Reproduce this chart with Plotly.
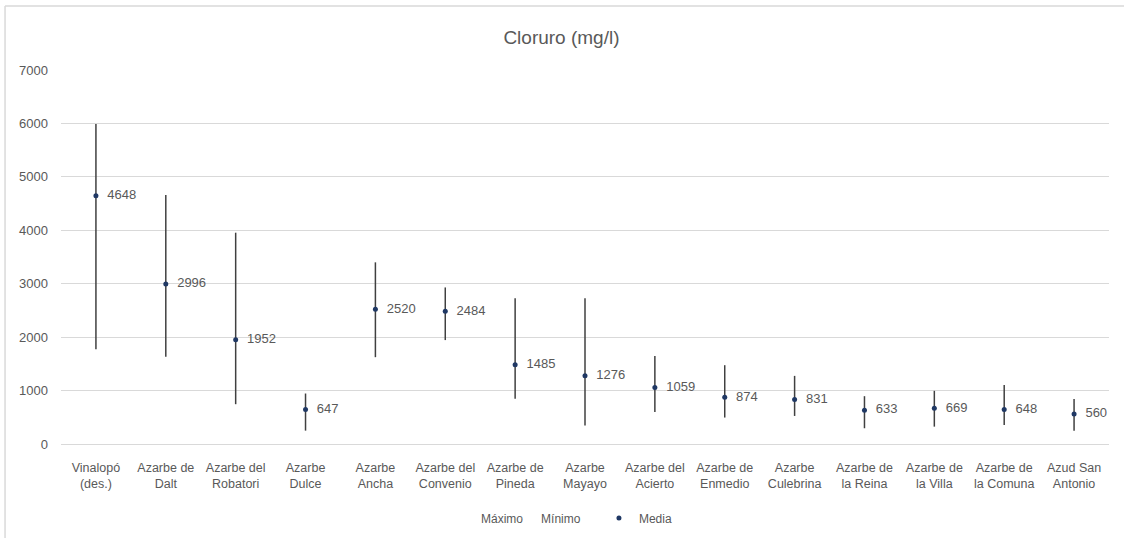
import plotly.graph_objects as go

# Chloride (mg/l) per sampling point: maximum, minimum and mean
categorias = [
    "Vinalopó<br>(des.)", "Azarbe de<br>Dalt", "Azarbe del<br>Robatori", "Azarbe<br>Dulce",
    "Azarbe<br>Ancha", "Azarbe del<br>Convenio", "Azarbe de<br>Pineda", "Azarbe<br>Mayayo",
    "Azarbe del<br>Acierto", "Azarbe de<br>Enmedio", "Azarbe<br>Culebrina", "Azarbe de<br>la Reina",
    "Azarbe de<br>la Villa", "Azarbe de<br>la Comuna", "Azud San<br>Antonio",
]
maximo = [5990, 4660, 3955, 945, 3400, 2930, 2730, 2730, 1645, 1475, 1275, 895, 995, 1105, 840]
minimo = [1775, 1635, 745, 250, 1625, 1945, 845, 345, 600, 495, 525, 295, 325, 355, 250]
media = [4648, 2996, 1952, 647, 2520, 2484, 1485, 1276, 1059, 874, 831, 633, 669, 648, 560]

y_ticks = [0, 1000, 2000, 3000, 4000, 5000, 6000, 7000]

FONT = "Liberation Sans"
GRIS = "#595959"
NBSP = "\u00a0"

fig = go.Figure()

# Legend-only entries for the max and min series (no visible marker)
for nombre, serie, leyenda in (("Máximo", maximo, "legend"), ("Mínimo", minimo, "legend3")):
    fig.add_trace(go.Scatter(
        x=categorias, y=serie, mode="markers", name=nombre, legend=leyenda,
        marker=dict(size=1, color="white", opacity=0), hoverinfo="skip",
    ))

# High-low lines drawn as asymmetric error bars around the mean
fig.add_trace(go.Scatter(
    x=categorias, y=media,
    mode="markers+text",
    name="Media", legend="legend2",
    marker=dict(color="#1F3864", size=5),
    text=[NBSP * 2 + str(v) for v in media],
    textposition="middle right",
    textfont=dict(family=FONT, size=13, color=GRIS),
    error_y=dict(
        type="data", symmetric=False,
        array=[mx - m for mx, m in zip(maximo, media)],
        arrayminus=[m - mn for m, mn in zip(media, minimo)],
        color="#404040", thickness=1.5, width=0,
    ),
    cliponaxis=False,
))

legend_common = dict(orientation="h", xanchor="left", yref="container", y=0.037,
                     yanchor="middle", traceorder="normal", bgcolor="rgba(0,0,0,0)",
                     font=dict(family=FONT, size=12, color=GRIS), itemwidth=30)

fig.update_layout(
    width=1124, height=538,
    margin=dict(l=61, r=15, t=70, b=94, autoexpand=False),
    paper_bgcolor="white", plot_bgcolor="white",
    font=dict(family=FONT, color=GRIS, size=13),
    title=dict(text="Cloruro (mg/l)", x=0.4995, xanchor="center", y=0.93, yanchor="middle",
               font=dict(family=FONT, size=19, color=GRIS)),
    showlegend=True,
    legend=dict(x=0.3626, **legend_common),
    legend3=dict(x=0.4199, **legend_common),
    legend2=dict(x=0.5133, **legend_common),
    xaxis=dict(range=[-0.5, 14.5], showgrid=False, showline=False, ticks="", zeroline=False,
               automargin=False,
               tickfont=dict(family=FONT, size=12.5, color=GRIS), ticklabelstandoff=14),
    yaxis=dict(range=[0, 7000], tickvals=y_ticks, showgrid=True, gridcolor="#D9D9D9",
               gridwidth=1, zeroline=True, zerolinecolor="#D9D9D9", zerolinewidth=1,
               showline=False, ticks="", automargin=False,
               tickfont=dict(family=FONT, size=13, color=GRIS), ticklabelstandoff=12),
    shapes=[
        dict(type="line", xref="paper", yref="paper", x0=-0.0534, x1=1.02, y0=1.171, y1=1.171,
             line=dict(color="#D9D9D9", width=1.5)),
        dict(type="line", xref="paper", yref="paper", x0=-0.0534, x1=-0.0534, y0=-0.26, y1=1.171,
             line=dict(color="#D9D9D9", width=1.5)),
    ],
)

fig.write_html("out.html")
